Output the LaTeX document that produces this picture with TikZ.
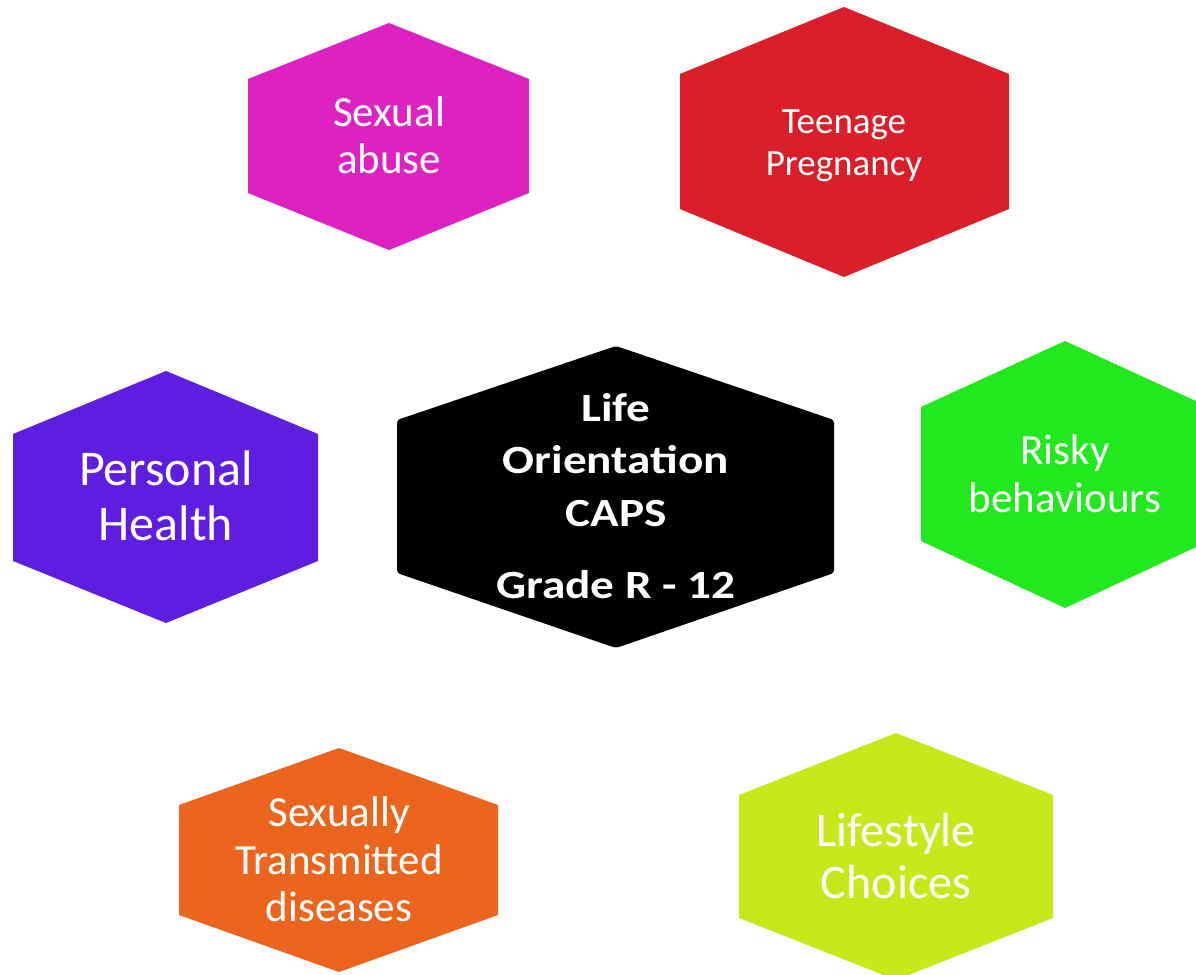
\documentclass[tikz,border=0pt]{standalone}
\usepackage{fontspec}
\setmainfont{Carlito}
\usepackage{graphicx}
\definecolor{hexmagenta}{HTML}{DE22C2}
\definecolor{hexred}{HTML}{DB1F2A}
\definecolor{hexpurple}{HTML}{5F1EDF}
\definecolor{hexgreen}{HTML}{22E81E}
\definecolor{hexorange}{HTML}{EB651E}
\definecolor{hexlime}{HTML}{C8E81C}
\begin{document}
\begin{tikzpicture}[x=1bp,y=-1bp,
  lbl/.style={text=white, align=center, inner sep=0pt}]
\useasboundingbox (0,0) rectangle (1196,975);
\clip (0,0) rectangle (1196,975);
% Sexual abuse
\fill[hexmagenta] (389,23) -- (529,79) -- (529,193) -- (389,250) -- (248,193) -- (248,79) -- cycle;
\node[lbl, font=\fontsize{43bp}{47bp}\selectfont] (abuse) at (389,135) {Sexual\\abuse};
% Teenage Pregnancy
\fill[hexred] (844,7) -- (1009,74) -- (1009,209) -- (844,277) -- (680,209) -- (680,74) -- cycle;
\node[lbl, font=\fontsize{37bp}{42bp}\selectfont] (teen) at (844,145.5) {Teenage\\Pregnancy};
% Personal Health
\fill[hexpurple] (166,371) -- (318,434) -- (318,561) -- (166,623) -- (13,561) -- (13,434) -- cycle;
\node[lbl, font=\fontsize{50bp}{55bp}\selectfont] (health) at (166,496) {Personal\\Health};
% Centre
\fill[black, rounded corners=3bp] (616,346) -- (834,420) -- (834,573) -- (616,648) -- (397,573) -- (397,420) -- cycle;
\node[lbl, font=\fontsize{40bp}{52.5bp}\selectfont\bfseries] (centre) at (616,496)
  {\scalebox{1.18}[1]{\vbox{\baselineskip=52.5bp\halign{\hfil#\hfil\cr Life\cr Orientation\cr CAPS\cr\noalign{\vskip20bp}Grade R - 12\cr}}}};
% Risky behaviours
\fill[hexgreen] (1065,341) -- (1209,407) -- (1209,541) -- (1065,608) -- (921,541) -- (921,407) -- cycle;
\node[lbl, font=\fontsize{43bp}{48bp}\selectfont] (risky) at (1065,474) {Risky\\behaviours};
% Sexually Transmitted diseases
\fill[hexorange] (339,748) -- (498,805) -- (498,915) -- (339,972) -- (179,915) -- (179,805) -- cycle;
\node[lbl, font=\fontsize{43bp}{47.5bp}\selectfont] (std) at (339,859.5) {Sexually\\Transmitted\\diseases};
% Lifestyle Choices
\fill[hexlime] (896,733) -- (1053,795) -- (1053,918) -- (896,980) -- (739,918) -- (739,795) -- cycle;
\node[lbl, font=\fontsize{48bp}{52bp}\selectfont] (life) at (896,856) {Lifestyle\\Choices};
\end{tikzpicture}
\end{document}
